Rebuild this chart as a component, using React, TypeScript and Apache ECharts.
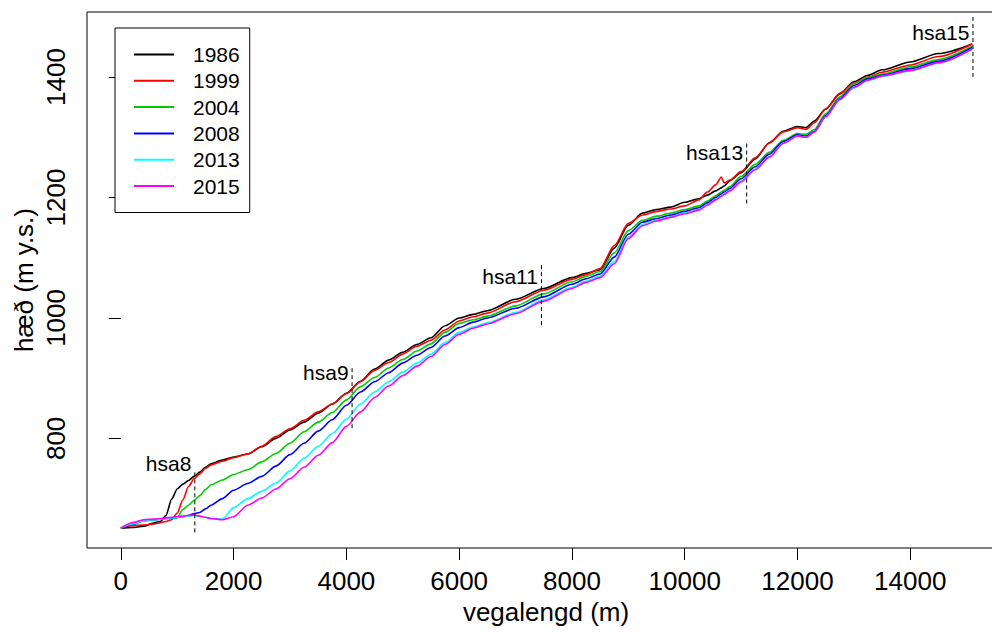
import { useEffect, useRef } from 'react';
import * as echarts from 'echarts';

const FONT = '"Liberation Sans", Arial, Helvetica, sans-serif';

// Distance along the road (m) at which the profiles are sampled
const distance = [
  0, 200, 400, 600, 700, 800, 900, 1000, 1100, 1200,
  1300, 1400, 1500, 1600, 1800, 2000, 2250, 2500, 2750, 3000,
  3250, 3500, 3750, 4000, 4250, 4500, 4750, 5000, 5250, 5500,
  5750, 6000, 6250, 6500, 7000, 7500, 8000, 8250, 8500, 8750,
  9000, 9250, 9500, 9750, 10000, 10250, 10400, 10550, 10650, 10700,
  10800, 11000, 11250, 11500, 11750, 12000, 12150, 12300, 12500, 12750,
  13000, 13250, 13500, 14000, 14500, 15100,
];

const years = ['1986', '1999', '2004', '2008', '2013', '2015'];
const colors = ['#000000', '#FF0000', '#00CD00', '#0000FF', '#00FFFF', '#FF00FF'];

// Surface elevation (m a.s.l.) for each survey year
const elev1986 = [
  651, 652, 654, 660, 662, 672, 699, 716, 724, 730,
  737, 744, 752, 758, 764, 769, 774, 786, 800, 814,
  827, 842, 857, 875, 895, 915, 930, 943, 956, 967,
  987, 1000, 1006, 1012, 1031, 1049, 1067, 1074, 1080, 1116,
  1154, 1174, 1180, 1184, 1192, 1198, 1204, 1211, 1216, 1219,
  1228, 1241, 1264, 1291, 1310, 1318, 1316, 1327, 1347, 1372,
  1392, 1403, 1412, 1425, 1439, 1455,
];
const elev1999 = [
  651, 655, 656, 658, 660, 662, 665, 676, 698, 720,
  733, 741, 750, 756, 762, 768, 774, 787, 803, 816,
  830, 844, 857, 874, 894, 913, 926, 940, 953, 963,
  980, 995, 1002, 1008, 1027, 1046, 1064, 1072, 1082, 1120,
  1157, 1171, 1177, 1181, 1186, 1196, 1209, 1221, 1234, 1224,
  1229, 1243, 1266, 1290, 1309, 1316, 1313, 1324, 1347, 1373,
  1390, 1400, 1408, 1420, 1434, 1455,
];
const elev2004 = [
  651, 658, 664, 665, 666, 667, 668, 668, 682, 689,
  697, 705, 715, 723, 731, 740, 748, 761, 775, 792,
  811, 827, 843, 864, 886, 901, 917, 931, 945, 957,
  976, 991, 997, 1003, 1020, 1040, 1060, 1069, 1077, 1108,
  1145, 1162, 1169, 1174, 1180, 1186, 1194, 1203, 1209, 1212,
  1218, 1235, 1255, 1275, 1295, 1306, 1305, 1313, 1339, 1367,
  1389, 1399, 1405, 1417, 1429, 1451,
];
const elev2008 = [
  651, 657, 663, 665, 666, 667, 668, 669, 670, 672,
  675, 677, 683, 689, 700, 714, 725, 737, 754, 773,
  792, 812, 831, 855, 877, 894, 909, 925, 938, 951,
  970, 984, 993, 1000, 1016, 1035, 1056, 1065, 1073, 1101,
  1139, 1159, 1165, 1171, 1177, 1183, 1191, 1200, 1206, 1209,
  1215, 1231, 1251, 1272, 1293, 1304, 1302, 1310, 1336, 1364,
  1386, 1397, 1403, 1414, 1426, 1449,
];
const elev2013 = [
  651, 658, 663, 665, 666, 667, 668, 669, 670, 671,
  672, 671, 669, 667, 666, 685, 700, 712, 726, 746,
  767, 787, 808, 832, 857, 877, 894, 910, 925, 940,
  959, 976, 985, 992, 1009, 1030, 1051, 1061, 1069, 1094,
  1134, 1155, 1162, 1168, 1174, 1180, 1188, 1197, 1203, 1206,
  1212, 1227, 1247, 1268, 1290, 1302, 1300, 1308, 1334, 1362,
  1382, 1394, 1401, 1410, 1423, 1446,
];
const elev2015 = [
  651, 660, 665, 666, 667, 668, 669, 670, 671, 672,
  673, 671, 669, 667, 665, 670, 689, 701, 716, 733,
  752, 772, 793, 820, 844, 868, 887, 904, 920, 936,
  956, 973, 983, 990, 1007, 1028, 1049, 1059, 1067, 1090,
  1132, 1153, 1161, 1167, 1173, 1179, 1187, 1196, 1202, 1205,
  1211, 1226, 1246, 1267, 1290, 1302, 1300, 1309, 1334, 1363,
  1383, 1395, 1402, 1411, 1424, 1447,
];

// Reference stations along the road
const stationNames = ['hsa8', 'hsa9', 'hsa11', 'hsa13', 'hsa15'];
const stationDist = [1312, 4101, 7459, 11099, 15112];
const stationLow = [644, 817, 988, 1190, 1400];
const stationHigh = [744, 917, 1088, 1290, 1500];
const stationLabelElev = [759, 909, 1068, 1274, 1474];

const xTicks = [0, 2000, 4000, 6000, 8000, 10000, 12000, 14000];
const yTicks = [800, 1000, 1200, 1400];

const plain = (v: number) => String(v);

export default function App() {
  const ref = useRef<HTMLDivElement>(null);

  useEffect(() => {
    if (!ref.current) return;
    const chart = echarts.init(ref.current, null, { renderer: 'svg' });
    const elevations = [elev1986, elev1999, elev2004, elev2008, elev2013, elev2015];

    const profileSeries = years.map((year, i) => ({
      name: year,
      type: 'line',
      data: distance.map((d, k) => [d, elevations[i][k]]),
      symbol: 'none',
      showSymbol: false,
      smooth: 0.25,
      smoothMonotone: 'x',
      lineStyle: { color: colors[i], width: 1.6 },
      itemStyle: { color: colors[i] },
      silent: true,
      z: 2,
    }));

    const stationLines = stationNames.map((n, i) => ({
      name: n,
      type: 'line',
      data: [
        [stationDist[i], stationLow[i]],
        [stationDist[i], stationHigh[i]],
      ],
      symbol: 'none',
      lineStyle: { color: '#000', width: 1, type: [4, 3] },
      silent: true,
      z: 3,
    }));

    const stationLabels = {
      type: 'scatter',
      data: stationNames.map((n, i) => ({ name: n, value: [stationDist[i], stationLabelElev[i]] })),
      symbolSize: 1,
      itemStyle: { color: 'rgba(0,0,0,0)', opacity: 1 },
      label: {
        show: true,
        position: 'left',
        distance: 3,
        formatter: '{b}',
        fontSize: 21,
        color: '#000',
        opacity: 1,
        fontFamily: FONT,
      },
      silent: true,
      z: 4,
    };

    chart.setOption({
      animation: false,
      backgroundColor: '#fff',
      textStyle: { fontFamily: FONT },
      grid: {
        left: 87,
        right: -13,
        top: 12,
        bottom: 84,
        show: true,
        borderColor: '#000',
        borderWidth: 1,
        backgroundColor: 'transparent',
        outerBoundsMode: 'none',
        containLabel: false,
      },
      legend: {
        data: years,
        orient: 'vertical',
        left: 115,
        top: 28,
        padding: [16, 10, 16, 19],
        itemWidth: 40,
        itemHeight: 2,
        itemGap: 5.3,
        icon: 'rect',
        backgroundColor: '#fff',
        borderColor: '#000',
        borderWidth: 1,
        borderRadius: 0,
        selectedMode: false,
        textStyle: { fontSize: 21, color: '#000', fontFamily: FONT, padding: [0, 0, 0, 14] },
      },
      xAxis: {
        type: 'value',
        min: -600,
        max: 15680,
        name: 'vegalengd (m)',
        nameLocation: 'middle',
        nameGap: 64,
        nameMoveOverlap: false,
        nameTextStyle: {
          fontSize: 26,
          lineHeight: 24,
          color: '#000',
          fontFamily: FONT,
          verticalAlign: 'middle',
        },
        axisLine: { show: false },
        splitLine: { show: false },
        axisTick: {
          show: true,
          customValues: xTicks,
          length: 12,
          lineStyle: { color: '#000', width: 1 },
        },
        axisLabel: {
          customValues: xTicks,
          formatter: plain,
          fontSize: 26,
          lineHeight: 22,
          color: '#000',
          fontFamily: FONT,
          margin: 33,
          verticalAlign: 'middle',
        },
      },
      yAxis: {
        type: 'value',
        min: 618,
        max: 1508,
        name: 'hæð (m y.s.)',
        nameLocation: 'middle',
        nameRotate: 90,
        nameGap: 63,
        nameMoveOverlap: false,
        nameTextStyle: {
          fontSize: 26,
          lineHeight: 24,
          color: '#000',
          fontFamily: FONT,
          align: 'center',
          verticalAlign: 'middle',
        },
        axisLine: { show: false },
        splitLine: { show: false },
        axisTick: {
          show: true,
          customValues: yTicks,
          length: 12,
          lineStyle: { color: '#000', width: 1 },
        },
        axisLabel: {
          customValues: yTicks,
          formatter: plain,
          rotate: 90,
          fontSize: 26,
          lineHeight: 22,
          color: '#000',
          fontFamily: FONT,
          margin: 31,
          align: 'center',
          verticalAlign: 'middle',
        },
      },
      series: [...profileSeries, ...stationLines, stationLabels],
    });

    return () => chart.dispose();
  }, []);

  return (
    <div
      ref={ref}
      style={{ position: 'absolute', left: 0, top: 0, width: 992, height: 632 }}
    />
  );
}
